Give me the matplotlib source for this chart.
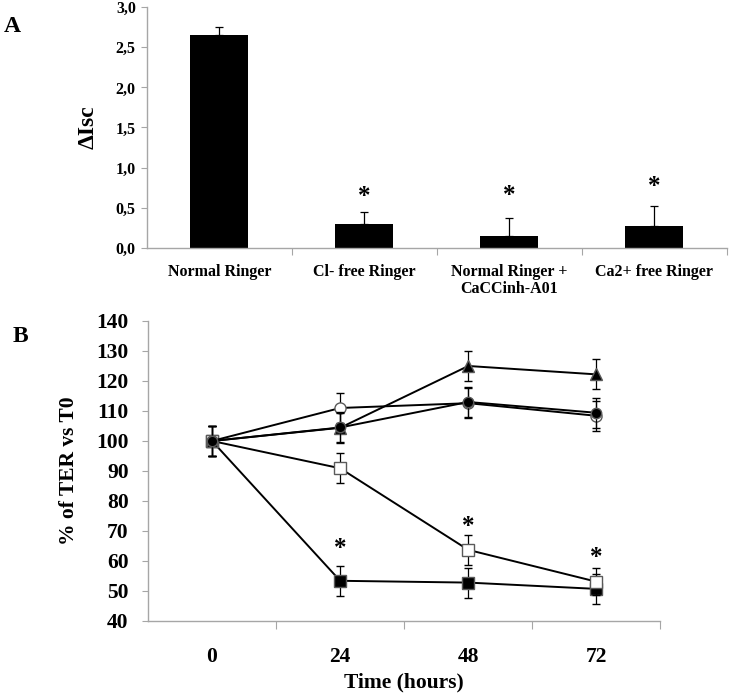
import matplotlib
matplotlib.use("Agg")
import matplotlib.pyplot as plt
import numpy as np

plt.rcParams['font.family'] = ['Liberation Serif', 'DejaVu Serif']
plt.rcParams['font.weight'] = 'bold'

# ---------------- Panel A data ----------------
a_categories = ["Normal Ringer", "Cl- free Ringer", "Normal Ringer +\nCaCCinh-A01", "Ca2+ free Ringer"]
a_values = [2.65, 0.29, 0.15, 0.27]
a_errors = [0.10, 0.15, 0.22, 0.25]
a_signif = [False, True, True, True]
a_yticks = [0.0, 0.5, 1.0, 1.5, 2.0, 2.5, 3.0]
a_yticklabels = ["0,0", "0,5", "1,0", "1,5", "2,0", "2,5", "3,0"]
a_star_y = [None, 0.69, 0.70, 0.81]

# ---------------- Panel B data ----------------
b_times = ["0", "24", "48", "72"]
b_yticks = [40, 50, 60, 70, 80, 90, 100, 110, 120, 130, 140]
b_filled_square = [100, 53.4, 52.8, 50.7]
b_filled_square_err = [5, 5, 5, 5]
b_open_square = [100, 90.9, 63.7, 53.1]
b_open_square_err = [5, 5, 5, 4.5]
b_open_circle = [100, 111.0, 112.6, 108.4]
b_open_circle_err = [5, 5, 5, 5]
b_triangle = [100, 104.4, 125.0, 122.2]
b_triangle_err = [5, 5, 5, 5]
b_filled_circle = [100, 104.5, 113.0, 109.4]
b_filled_circle_err = [5, 5, 5, 5]
b_star_y = [None, 65.4, 72.9, 62.5]

AXCOL = '#a6a6a6'
EDGE = '#5a5a5a'

fig = plt.figure(figsize=(7.29, 6.99), dpi=100)

# ---------------- Panel A ----------------
axA = fig.add_axes([0.2016, 0.6456, 0.795, 0.3440])
xa = np.arange(len(a_categories))
axA.bar(xa, a_values, width=0.40, color='black', zorder=2)
axA.errorbar(xa, a_values, yerr=[np.zeros(len(a_errors)), a_errors], fmt='none',
             ecolor='black', elinewidth=0.9, capsize=3, capthick=0.9, zorder=3)
for x, s, y in zip(xa, a_signif, a_star_y):
    if s:
        axA.annotate('*', (x, y), xytext=(0, -7.5), textcoords='offset points',
                     ha='center', va='baseline', fontsize=18, fontweight='bold')
axA.set_xlim(-0.5, 3.5)
axA.set_ylim(0, 3.0)
axA.set_yticks(a_yticks)
axA.set_yticklabels(a_yticklabels)
axA.set_xticks([0.5, 1.5, 2.5, 3.5])
axA.set_xticklabels([])
axA.set_xticks(xa, minor=True)
axA.set_xticklabels(a_categories, minor=True, fontsize=11.5, fontweight='bold', linespacing=1.05)
axA.tick_params(axis='x', which='minor', length=0, pad=12)
axA.tick_params(axis='x', which='major', length=5, color=AXCOL, direction='out')
axA.tick_params(axis='y', length=4, color=AXCOL, direction='out', pad=4, labelsize=11.5)
for lab in axA.get_yticklabels():
    lab.set_fontweight('bold')
for sp in ['top', 'right']:
    axA.spines[sp].set_visible(False)
for sp in ['left', 'bottom']:
    axA.spines[sp].set_color(AXCOL)
    axA.spines[sp].set_linewidth(1.0)
axA.set_ylabel('ΔIsc', fontsize=17, fontweight='bold', labelpad=12)
fig.text(12/729, 1-27/699, 'A', fontsize=17, fontweight='bold', ha='center', va='center')

# ---------------- Panel B ----------------
axB = fig.add_axes([0.203, 0.1116, 0.703, 0.4292])
xb = np.arange(len(b_times))

def series(vals, errs, marker, mfc, ms, z):
    axB.errorbar(xb, vals, yerr=errs, fmt='-', color='black', lw=1.4,
                 marker=marker, mfc=mfc, mec=EDGE, mew=1.0, ms=ms,
                 ecolor='black', elinewidth=0.9, capsize=3, capthick=0.9, zorder=z)

series(b_filled_square, b_filled_square_err, 's', 'black', 8, 2)
series(b_open_square, b_open_square_err, 's', 'white', 8, 3)
series(b_open_circle, b_open_circle_err, 'o', 'white', 8, 4)
series(b_triangle, b_triangle_err, '^', 'black', 8, 5)
series(b_filled_circle, b_filled_circle_err, 'o', 'black', 7.5, 6)

for x, y in zip(xb, b_star_y):
    if y is not None:
        axB.annotate('*', (x, y), xytext=(0, -7.5), textcoords='offset points',
                     ha='center', va='baseline', fontsize=18, fontweight='bold')

axB.set_xlim(-0.5, 3.5)
axB.set_ylim(40, 140)
axB.set_yticks(b_yticks)
axB.set_yticklabels([str(v) for v in b_yticks])
axB.set_xticks([0.5, 1.5, 2.5, 3.5])
axB.set_xticklabels([])
axB.set_xticks(xb, minor=True)
axB.set_xticklabels(b_times, minor=True, fontsize=15.5, fontweight='bold')
axB.tick_params(axis='x', which='minor', length=0, pad=19)
axB.tick_params(axis='x', which='major', length=6, color=AXCOL, direction='out')
axB.tick_params(axis='y', length=4, color=AXCOL, direction='out', pad=10, labelsize=15.5)
for lab in axB.get_yticklabels():
    lab.set_fontweight('bold')
for sp in ['top', 'right']:
    axB.spines[sp].set_visible(False)
for sp in ['left', 'bottom']:
    axB.spines[sp].set_color(AXCOL)
    axB.spines[sp].set_linewidth(1.0)
axB.set_xlabel('Time (hours)', fontsize=15.5, fontweight='bold', labelpad=4)
axB.set_ylabel('% of TER vs T0', fontsize=15.5, fontweight='bold', labelpad=12)
fig.text(20/729, 1-337/699, 'B', fontsize=17, fontweight='bold', ha='center', va='center')

fig.savefig('out.png', dpi=100)
